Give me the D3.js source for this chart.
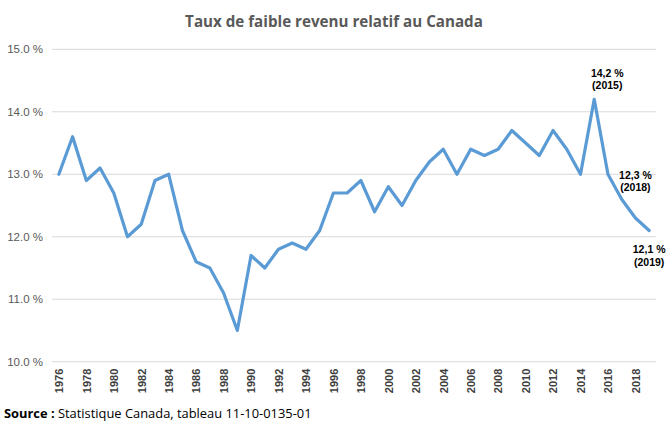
<!DOCTYPE html>
<html><head><meta charset="utf-8">
<script src="https://cdn.jsdelivr.net/npm/d3@7"></script>
<style>
html,body{margin:0;padding:0;background:#fff;}
svg{display:block;font-family:"Open Sans","Noto Sans",sans-serif;}
</style></head>
<body>
<svg id="chart" width="670" height="423"></svg>
<script>
const years = d3.range(1976, 2020);
const rates = [13.0,13.6,12.9,13.1,12.7,12.0,12.2,12.9,13.0,12.1,
               11.6,11.5,11.1,10.5,11.7,11.5,11.8,11.9,11.8,12.1,
               12.7,12.7,12.9,12.4,12.8,12.5,12.9,13.2,13.4,13.0,
               13.4,13.3,13.4,13.7,13.5,13.3,13.7,13.4,13.0,14.2,
               13.0,12.6,12.3,12.1];
const yTicks = [10,11,12,13,14,15];
const xTickYears = years.filter(y => y % 2 === 0);
const noteYears = [2015, 2018, 2019];
const noteLines = [["14,2 %","(2015)"],["12,3 %","(2018)"],["12,1 %","(2019)"]];
const title = "Taux de faible revenu relatif au Canada";
const sourceBold = "Source :";
const sourceText = " Statistique Canada, tableau 11-10-0135-01";

const svg = d3.select("#chart");
const x = d3.scalePoint().domain(years).range([52, 656]).padding(0.5);
const y = d3.scaleLinear().domain([10, 15]).range([361.7, 49.3]);

// gridlines
svg.append("g").selectAll("line").data(yTicks).join("line")
  .attr("x1", 52).attr("x2", 656)
  .attr("y1", d => y(d)).attr("y2", d => y(d))
  .attr("stroke", "#d9d9d9").attr("stroke-width", 1);

// y axis
const yAxis = svg.append("g").attr("transform", "translate(43,0)")
  .call(d3.axisLeft(y).tickValues(yTicks).tickSize(0).tickPadding(0)
    .tickFormat(d => d3.format(".1f")(d) + " %"));
yAxis.select(".domain").remove();
yAxis.selectAll("text").attr("fill", "#595959").attr("font-size", 11.5)
  .attr("font-family", "'Liberation Sans', Arial, sans-serif");

// x axis
const xAxis = svg.append("g").attr("transform", `translate(0,${y(10)})`)
  .call(d3.axisBottom(x).tickValues(xTickYears).tickSize(0).tickFormat(d => String(d)));
xAxis.select(".domain").remove();
xAxis.selectAll("text")
  .attr("transform", "rotate(-90)")
  .attr("x", -7).attr("y", 0).attr("dy", "0.35em")
  .attr("text-anchor", "end")
  .attr("fill", "#404040").attr("font-size", 11).attr("font-weight", "bold")
  .attr("font-family", "'Liberation Sans Narrow','Liberation Sans', Arial, sans-serif");

// line
const line = d3.line().x((d, i) => x(years[i])).y(d => y(d));
svg.append("path").datum(rates)
  .attr("d", line).attr("fill", "none")
  .attr("stroke", "#5b9bd5").attr("stroke-width", 3.2)
  .attr("stroke-linejoin", "round").attr("stroke-linecap", "round");

// annotations
const offsets = [{dx: 13, dy: -26}, {dx: 0, dy: -43}, {dx: 0, dy: 19}];
noteYears.forEach((yr, k) => {
  const v = rates[years.indexOf(yr)];
  const t = svg.append("text")
    .attr("x", x(yr) + offsets[k].dx)
    .attr("y", y(v) + offsets[k].dy)
    .attr("text-anchor", "middle").attr("font-size", 10.5).attr("font-weight", "bold")
    .attr("fill", "#000").attr("font-family", "'Liberation Sans', Arial, sans-serif");
  noteLines[k].forEach((s, j) => t.append("tspan").attr("x", x(yr) + offsets[k].dx)
    .attr("dy", j === 0 ? "0.35em" : 12.5).text(s));
});

// title
const tt = svg.append("text").attr("x", 334).attr("y", 27).attr("text-anchor", "middle")
  .attr("font-size", 16).attr("font-weight", "bold").attr("fill", "#595959")
  .attr("font-family", "'Open Sans', sans-serif").text(title);
const tw = tt.node().getComputedTextLength();
tt.attr("font-size", 16 * 298 / tw);

// source
const src = svg.append("text").attr("x", 4).attr("y", 418).attr("font-size", 13)
  .attr("fill", "#000").attr("font-family", "'Open Sans', sans-serif");
src.append("tspan").attr("font-weight", "bold").text(sourceBold);
src.append("tspan").text(sourceText);
const sw = src.node().getComputedTextLength();
src.attr("font-size", 13 * 308 / sw);
</script>
</body></html>
